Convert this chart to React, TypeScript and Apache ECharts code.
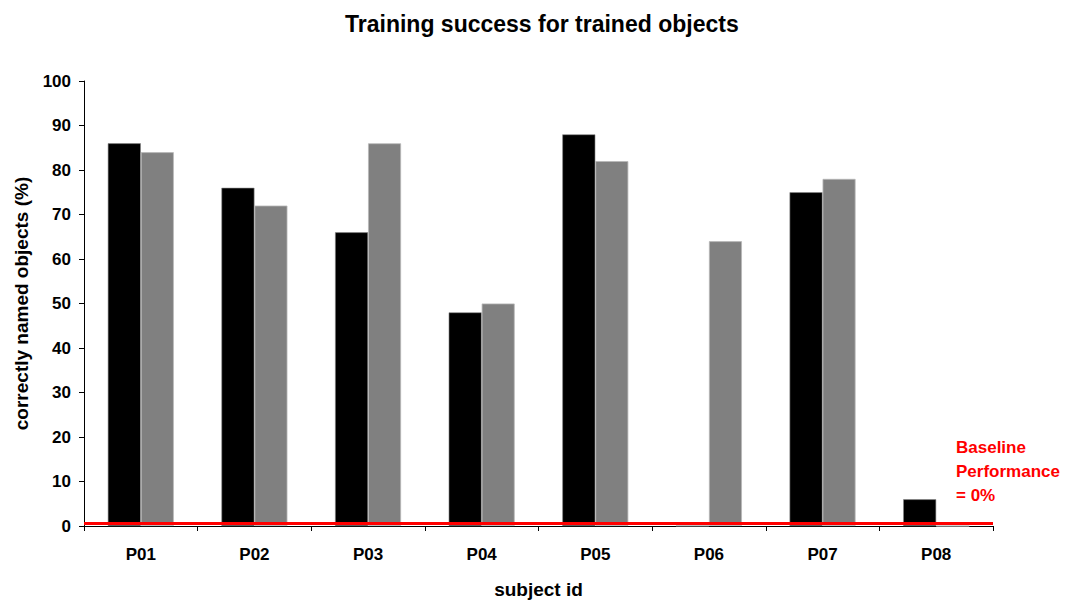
import React, { useEffect, useRef } from "react";
import * as echarts from "echarts";

const categories = ["P01", "P02", "P03", "P04", "P05", "P06", "P07", "P08"];
const seriesBlack = [86, 76, 66, 48, 88, 0, 75, 6];
const seriesGray = [84, 72, 86, 50, 82, 64, 78, 0];
const baselineValue = 0.7;
const yTicks = { min: 0, max: 100, interval: 10 };

export default function App() {
  const ref = useRef<HTMLDivElement>(null);
  useEffect(() => {
    document.body.style.margin = "0";
    const chart = echarts.init(ref.current!, undefined, { renderer: "svg" });
    const font = "Liberation Sans, Arial, sans-serif";
    chart.setOption({
      animation: false,
      backgroundColor: "#fff",
      title: {
        text: "Training success for trained objects",
        left: 340,
        top: 7,
        textStyle: { fontFamily: font, fontWeight: "bold", fontSize: 23, color: "#000" },
      },
      grid: { left: 84, top: 81, right: 73, bottom: 77, containLabel: false, outerBoundsMode: "none" },
      xAxis: {
        type: "category",
        data: categories,
        name: "subject id",
        nameLocation: "middle",
        nameGap: 54,
        nameTextStyle: { fontFamily: font, fontWeight: "bold", fontSize: 19, color: "#000" },
        axisLine: { lineStyle: { color: "#000", width: 1 } },
        axisTick: { show: true, alignWithLabel: false, length: 5, lineStyle: { color: "#000" } },
        axisLabel: { fontFamily: font, fontWeight: "bold", fontSize: 17, color: "#000", margin: 20 },
        splitLine: { show: false },
      },
      yAxis: {
        type: "value",
        min: yTicks.min,
        max: yTicks.max,
        interval: yTicks.interval,
        name: "correctly named objects (%)",
        nameLocation: "middle",
        nameGap: 53,
        nameTextStyle: { fontFamily: font, fontWeight: "bold", fontSize: 19, color: "#000" },
        axisLine: { show: true, lineStyle: { color: "#000", width: 1 } },
        axisTick: { show: true, length: 5, lineStyle: { color: "#000" } },
        axisLabel: { fontFamily: font, fontWeight: "bold", fontSize: 17, color: "#000", margin: 13 },
        splitLine: { show: false },
      },
      series: [
        {
          type: "bar",
          data: seriesBlack,
          barWidth: 33,
          barGap: "0%",
          itemStyle: { color: "#000", borderColor: "#888", borderWidth: 0.6 },
          markLine: {
            silent: true,
            symbol: ["none", "none"],
            label: { show: false },
            lineStyle: { color: "#ff0000", width: 3, type: "solid" },
            data: [{ yAxis: baselineValue }],
            z: 10,
          },
        },
        {
          type: "bar",
          data: seriesGray,
          barWidth: 33,
          barGap: "0%",
          itemStyle: { color: "#808080", borderColor: "#b8b8b8", borderWidth: 0.8 },
        },
      ],
      graphic: [
        {
          type: "text",
          left: 956,
          top: 435,
          style: {
            text: "Baseline\nPerformance\n= 0%",
            fill: "#ff0000",
            font: "bold 17px Liberation Sans, Arial, sans-serif",
            lineHeight: 24,
          },
        },
      ],
    });
    return () => chart.dispose();
  }, []);
  return <div ref={ref} style={{ width: 1066, height: 603 }} />;
}
